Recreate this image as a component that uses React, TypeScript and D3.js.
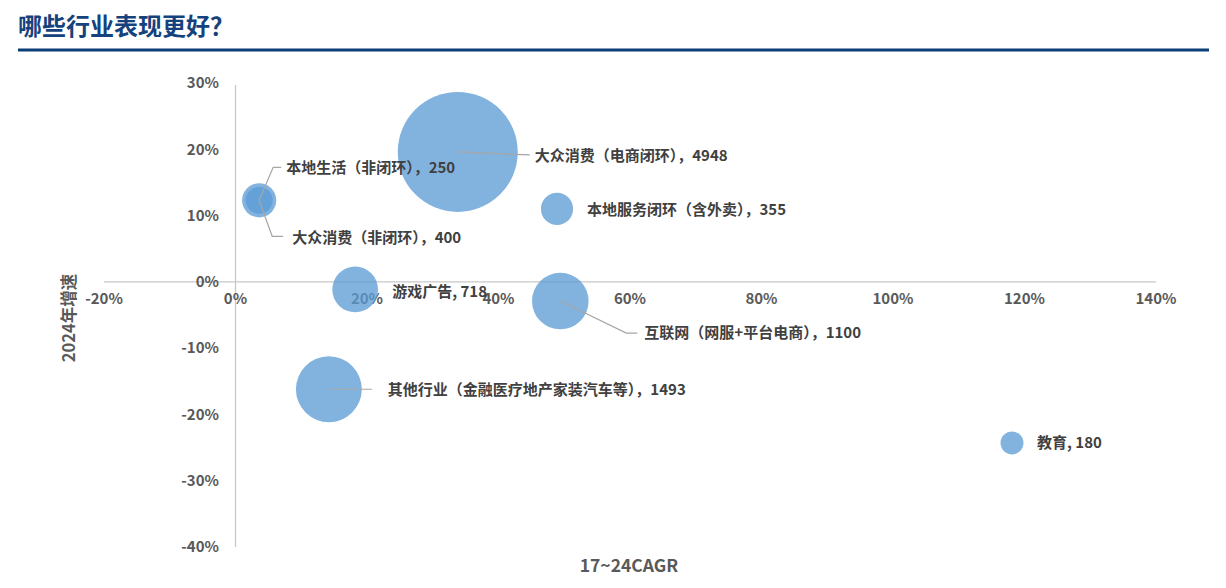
import React, { useRef, useEffect } from 'react';
import * as d3 from 'd3';

// industries, 17~24 CAGR, 2024 growth, bubble size
const industries = [
  '大众消费（电商闭环）',
  '大众消费（非闭环）',
  '本地生活（非闭环）',
  '本地服务闭环（含外卖）',
  '游戏广告',
  '互联网（网服+平台电商）',
  '其他行业（金融医疗地产家装汽车等）',
  '教育',
];
const cagr = [0.338, 0.036, 0.036, 0.489, 0.182, 0.494, 0.142, 1.181];
const growth = [0.196, 0.123, 0.123, 0.11, -0.0115, -0.029, -0.162, -0.243];
const sizes = [4948, 400, 250, 355, 718, 1100, 1493, 180];
const labelSep = ['，', '，', '，', '，', ', ', '，', '，', ', '];

const xTicks = [-0.2, 0, 0.2, 0.4, 0.6, 0.8, 1.0, 1.2, 1.4];
const yTicks = [0.3, 0.2, 0.1, 0, -0.1, -0.2, -0.3, -0.4];

// label placement relative to bubble centre; leader = polyline points relative to centre
const labelPos: { dx: number; dy: number; leader?: [number, number][] }[] = [
  { dx: 77, dy: 4, leader: [[0, 0], [72, 3]] },
  { dx: 33, dy: 37, leader: [[0, 0], [13, 36], [24, 36]] },
  { dx: 27, dy: -33, leader: [[0, 0], [14, -33], [22, -33]] },
  { dx: 30, dy: 1 },
  { dx: 37, dy: 2 },
  { dx: 84, dy: 32, leader: [[0, 0], [66, 32], [77, 32]] },
  { dx: 59, dy: 1, leader: [[0, 0], [43, 0]] },
  { dx: 25, dy: 0 },
];

const W = 1226;
const H = 588;
const FONT = '"Noto Sans CJK SC", "Noto Sans", sans-serif';

export default function App() {
  const svgRef = useRef<SVGSVGElement | null>(null);

  useEffect(() => {
    if (!svgRef.current) return;
    const svg = d3.select(svgRef.current);
    svg.selectAll('*').remove();

    const x = d3.scaleLinear().domain([-0.2, 1.4]).range([104, 1156]);
    const y = d3.scaleLinear().domain([-0.4, 0.3]).range([547, 83]);
    const r = d3.scaleSqrt().domain([0, 4948]).range([0, 60]);
    const pct = (v: number) => `${Math.round(v * 100)}%`;

    // title
    svg.append('text')
      .attr('x', 18).attr('y', 35)
      .attr('font-family', FONT).attr('font-size', 24).attr('font-weight', 700)
      .attr('fill', '#15427d')
      .text('哪些行业表现更好？');
    svg.append('line')
      .attr('x1', 18).attr('x2', 1209).attr('y1', 50).attr('y2', 50)
      .attr('stroke', '#0b3d78').attr('stroke-width', 3);

    // axes lines
    svg.append('line')
      .attr('x1', x(-0.2)).attr('x2', x(1.4)).attr('y1', y(0)).attr('y2', y(0))
      .attr('stroke', '#c8c8c8').attr('stroke-width', 1.3);
    svg.append('line')
      .attr('x1', x(0)).attr('x2', x(0)).attr('y1', y(0.3) + 2).attr('y2', y(-0.4))
      .attr('stroke', '#c8c8c8').attr('stroke-width', 1.3);

    // tick labels
    svg.append('g').selectAll('text').data(xTicks).join('text')
      .attr('x', d => x(d)).attr('y', y(0) + 22)
      .attr('text-anchor', 'middle')
      .attr('font-family', FONT).attr('font-size', 15).attr('font-weight', 700)
      .attr('fill', '#595959')
      .text(d => pct(d));
    svg.append('g').selectAll('text').data(yTicks).join('text')
      .attr('x', 219).attr('y', d => y(d))
      .attr('dy', '0.35em')
      .attr('text-anchor', 'end')
      .attr('font-family', FONT).attr('font-size', 15).attr('font-weight', 700)
      .attr('fill', '#595959')
      .text(d => pct(d));

    // axis titles
    svg.append('text')
      .attr('x', 629).attr('y', 572)
      .attr('text-anchor', 'middle')
      .attr('font-family', FONT).attr('font-size', 17.5).attr('font-weight', 700)
      .attr('fill', '#595959')
      .text('17~24CAGR');
    svg.append('text')
      .attr('transform', 'translate(75,318) rotate(-90)')
      .attr('text-anchor', 'middle')
      .attr('font-family', FONT).attr('font-size', 16.5).attr('font-weight', 700)
      .attr('fill', '#595959')
      .text('2024年增速');

    const idx = d3.range(industries.length);

    // bubbles
    svg.append('g').selectAll('circle').data(idx).join('circle')
      .attr('cx', i => x(cagr[i])).attr('cy', i => y(growth[i]))
      .attr('r', i => r(sizes[i]))
      .attr('fill', '#5b9bd5').attr('fill-opacity', 0.76);

    // leader lines
    const line = d3.line();
    svg.append('g').selectAll('path').data(idx.filter(i => labelPos[i].leader)).join('path')
      .attr('d', i => line(labelPos[i].leader!.map(([dx, dy]) => [x(cagr[i]) + dx, y(growth[i]) + dy]) as [number, number][]))
      .attr('fill', 'none').attr('stroke', '#a6a6a6').attr('stroke-width', 1.2);

    // labels
    svg.append('g').selectAll('text').data(idx).join('text')
      .attr('x', i => x(cagr[i]) + labelPos[i].dx)
      .attr('y', i => y(growth[i]) + labelPos[i].dy)
      .attr('dy', '0.35em')
      .attr('font-family', FONT).attr('font-size', 15).attr('font-weight', 700)
      .attr('fill', '#404040')
      .text(i => `${industries[i]}${labelSep[i]}${sizes[i]}`);
  }, []);

  return (
    <div style={{ position: 'absolute', left: 0, top: 0, background: '#fff' }}>
      <svg ref={svgRef} width={W} height={H}></svg>
    </div>
  );
}
